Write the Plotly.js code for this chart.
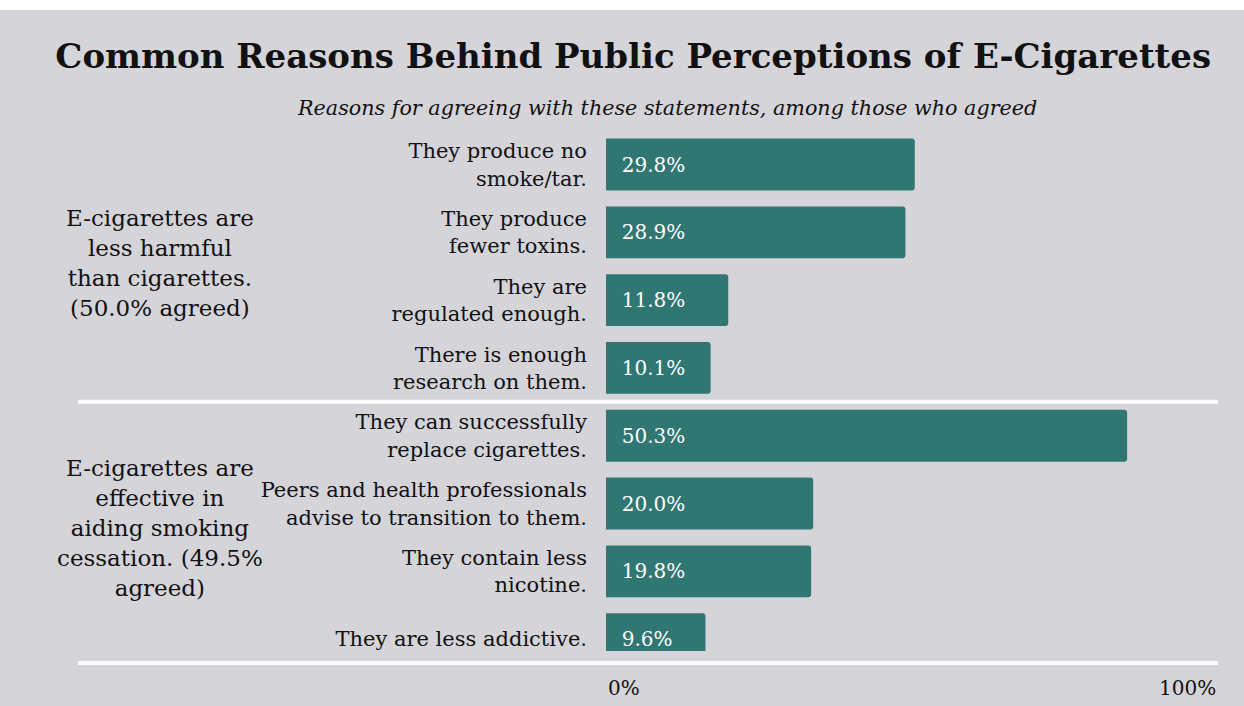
<!DOCTYPE html>
<html>
<head>
<meta charset="utf-8">
<script src="https://cdn.plot.ly/plotly-3.0.1.min.js"></script>
<style>html,body{margin:0;padding:0;background:#fff;}#chart{width:1244px;height:706px;}</style>
</head>
<body>
<div id="chart"></div>
<script>
var categories = [
  "They produce no<br>smoke/tar.",
  "They produce<br>fewer toxins.",
  "They are<br>regulated enough.",
  "There is enough<br>research on them.",
  "They can successfully<br>replace cigarettes.",
  "Peers and health professionals<br>advise to transition to them.",
  "They contain less<br>nicotine.",
  "They are less addictive."
];
var values = [29.8, 28.9, 11.8, 10.1, 50.3, 20.0, 19.8, 9.6];
var groupLabels = [
  "E-cigarettes are<br>less harmful<br>than cigarettes.<br>(50.0% agreed)",
  "E-cigarettes are<br>effective in<br>aiding smoking<br>cessation. (49.5%<br>agreed)"
];
var groupCenters = [1.45, 5.36];
var axisLabels = ["0%", "100%"];

var BG = "#d5d4d9";
var BAR = "#307672";
var FONT = "DejaVu Serif, Liberation Serif, serif";

var trace = {
  type: "bar",
  orientation: "h",
  y: categories,
  x: values,
  marker: {color: BAR},
  text: values.map(function(v){ return "\u00a0\u00a0" + v.toFixed(1) + "%"; }),
  textposition: "inside",
  insidetextanchor: "start",
  textfont: {color: "#ffffff", size: 20, family: FONT},
  hoverinfo: "none",
  cliponaxis: true
};

var annotations = groupLabels.map(function(t, i){
  return {
    xref: "paper", yref: "y", x: -0.7288, y: groupCenters[i],
    text: t, showarrow: false, xanchor: "center", yanchor: "middle",
    align: "center", font: {family: FONT, size: 23, color: "#111"}
  };
});
annotations.push({xref: "paper", yref: "paper", x: 0, y: -0.045, text: axisLabels[0],
  showarrow: false, xanchor: "left", yanchor: "top", font: {family: FONT, size: 20, color: "#111"}});
annotations.push({xref: "paper", yref: "paper", x: 1, y: -0.045, text: axisLabels[1],
  showarrow: false, xanchor: "right", yanchor: "top", font: {family: FONT, size: 20, color: "#111"}});
annotations.push({xref: "paper", yref: "paper", x: 0.10, y: 1.0 + 22/521, text: "<i>Reasons for agreeing with these statements, among those who agreed</i>",
  showarrow: false, xanchor: "center", yanchor: "middle", font: {family: FONT, size: 20.7, color: "#111"}});

var shapes = [
  {type: "rect", xref: "paper", yref: "paper", x0: -606/612, x1: 1 + 26/612, y0: -55/521, y1: 1 + 120/521,
   fillcolor: BG, line: {width: 0}, layer: "below"},
  {type: "line", xref: "paper", yref: "y", x0: (78-606)/612, x1: 1, y0: 3.5, y1: 3.5,
   line: {color: "#ffffff", width: 4}},
  {type: "line", xref: "paper", yref: "paper", x0: (78-606)/612, x1: 1, y0: -12/521, y1: -12/521,
   line: {color: "#ffffff", width: 4}}
];

var layout = {
  width: 1244, height: 706,
  margin: {l: 606, r: 26, t: 130, b: 55},
  paper_bgcolor: "#ffffff",
  plot_bgcolor: BG,
  showlegend: false,
  bargap: 0.235,
  barcornerradius: 3,
  title: {text: "<b>Common Reasons Behind Public Perceptions of E-Cigarettes</b>",
    font: {family: FONT, size: 34, color: "#111"}, x: 0.509, xanchor: "center", y: 0.92, yanchor: "middle"},
  xaxis: {range: [0, 59.07], showgrid: false, zeroline: false, showticklabels: false, fixedrange: true},
  yaxis: {type: "category", range: [7.175, -0.509], showgrid: false, zeroline: false,
    ticks: "", ticklabelstandoff: 18,
    tickfont: {family: FONT, size: 21, color: "#111"}, fixedrange: true},
  annotations: annotations,
  shapes: shapes
};

Plotly.newPlot("chart", [trace], layout, {displayModeBar: false, staticPlot: true});
</script>
</body>
</html>
